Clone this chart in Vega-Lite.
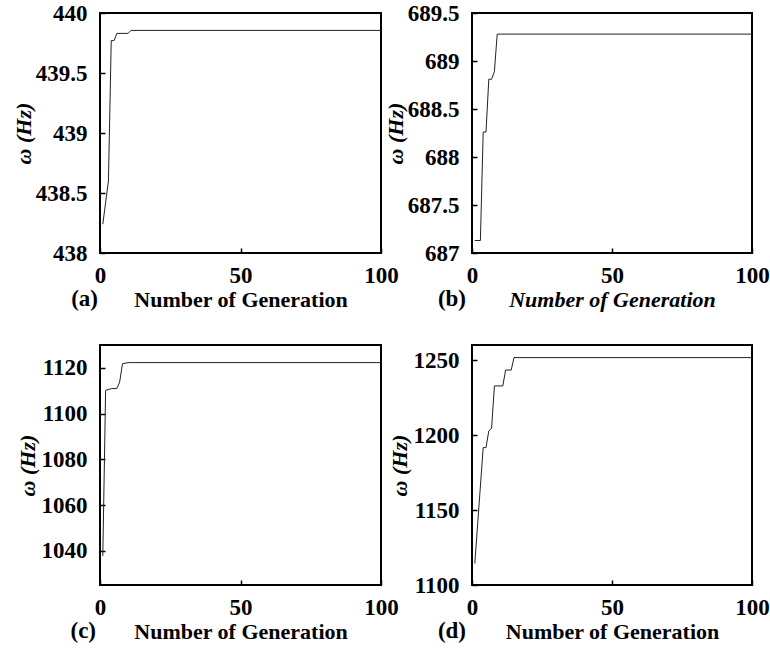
{
  "$schema": "https://vega.github.io/schema/vega-lite/v6.json",
  "background": "white",
  "padding": {"left": 11, "top": 1, "right": 5, "bottom": 5},
  "config": {
    "view": {"stroke": "black", "strokeWidth": 2},
    "axis": {
      "domain": false,
      "grid": false,
      "tickColor": "black",
      "tickWidth": 1.5,
      "tickSize": -5,
      "labelFont": "Liberation Serif",
      "labelFontWeight": "bold",
      "labelFontSize": 23,
      "labelColor": "black",
      "labelFlush": false,
      "labelOverlap": false,
      "titleFont": "Liberation Serif",
      "titleFontWeight": "bold",
      "titleFontSize": 22,
      "titleColor": "black"
    },
    "axisX": {"labelPadding": 16, "titlePadding": 2},
    "axisY": {"labelPadding": 18},
    "title": {"font": "Liberation Serif", "fontWeight": "bold", "fontSize": 23, "color": "black"}
  },
  "datasets": {
    "a": [
      {"gen": 1, "w": 438.24}, {"gen": 3, "w": 438.6}, {"gen": 4, "w": 439.77}, {"gen": 5, "w": 439.77},
      {"gen": 6, "w": 439.83}, {"gen": 10, "w": 439.83}, {"gen": 11, "w": 439.855}, {"gen": 100, "w": 439.855}
    ],
    "b": [
      {"gen": 1, "w": 687.13}, {"gen": 3, "w": 687.13}, {"gen": 4, "w": 688.26}, {"gen": 5, "w": 688.26},
      {"gen": 6, "w": 688.81}, {"gen": 7, "w": 688.81}, {"gen": 8, "w": 688.89}, {"gen": 9, "w": 689.28},
      {"gen": 100, "w": 689.28}
    ],
    "c": [
      {"gen": 1, "w": 1037.7}, {"gen": 2, "w": 1110.2}, {"gen": 4, "w": 1110.9}, {"gen": 6, "w": 1111},
      {"gen": 7, "w": 1113.8}, {"gen": 8, "w": 1121.8}, {"gen": 10, "w": 1122.3}, {"gen": 100, "w": 1122.3}
    ],
    "d": [
      {"gen": 1, "w": 1114.3}, {"gen": 4, "w": 1191.6}, {"gen": 5, "w": 1191.6}, {"gen": 6, "w": 1202.7},
      {"gen": 7, "w": 1204.5}, {"gen": 8, "w": 1232.7}, {"gen": 11, "w": 1232.7}, {"gen": 12, "w": 1243.3},
      {"gen": 14, "w": 1243.3}, {"gen": 15, "w": 1251.6}, {"gen": 100, "w": 1251.6}
    ]
  },
  "columns": 2,
  "bounds": "flush",
  "spacing": {"row": 92, "column": 91},
  "concat": [
    {
      "width": 281, "height": 240,
      "data": {"name": "a"},
      "title": {"text": "(a)", "orient": "bottom", "anchor": "start", "frame": "group", "align": "right", "dx": -2, "offset": -22},
      "mark": {"type": "line", "color": "#222", "strokeWidth": 1},
      "encoding": {
        "x": {"field": "gen", "type": "quantitative", "scale": {"domain": [0, 100], "nice": false},
              "axis": {"values": [0, 50, 100], "title": "Number of Generation"}},
        "y": {"field": "w", "type": "quantitative", "scale": {"domain": [438, 440], "nice": false, "zero": false},
              "axis": {"values": [438, 438.5, 439, 439.5, 440], "format": "~f", "title": "ω (Hz)", "titleFontStyle": "italic", "titlePadding": 0}}
      }
    },
    {
      "width": 280, "height": 240,
      "data": {"name": "b"},
      "title": {"text": "(b)", "orient": "bottom", "anchor": "start", "frame": "group", "align": "right", "dx": -6, "offset": -22},
      "mark": {"type": "line", "color": "#222", "strokeWidth": 1},
      "encoding": {
        "x": {"field": "gen", "type": "quantitative", "scale": {"domain": [0, 100], "nice": false},
              "axis": {"values": [0, 50, 100], "title": "Number of Generation", "titleFontStyle": "italic"}},
        "y": {"field": "w", "type": "quantitative", "scale": {"domain": [687, 689.5], "nice": false, "zero": false},
              "axis": {"values": [687, 687.5, 688, 688.5, 689, 689.5], "format": "~f", "title": "ω (Hz)", "titleFontStyle": "italic", "titlePadding": 0}}
      }
    },
    {
      "width": 281, "height": 240,
      "data": {"name": "c"},
      "title": {"text": "(c)", "orient": "bottom", "anchor": "start", "frame": "group", "align": "right", "dx": -4, "offset": -22},
      "mark": {"type": "line", "color": "#222", "strokeWidth": 1},
      "encoding": {
        "x": {"field": "gen", "type": "quantitative", "scale": {"domain": [0, 100], "nice": false},
              "axis": {"values": [0, 50, 100], "title": "Number of Generation"}},
        "y": {"field": "w", "type": "quantitative", "scale": {"domain": [1025, 1130], "nice": false, "zero": false},
              "axis": {"values": [1040, 1060, 1080, 1100, 1120], "format": "d", "title": "ω (Hz)", "titleFontStyle": "italic", "titlePadding": 2}}
      }
    },
    {
      "width": 280, "height": 240,
      "data": {"name": "d"},
      "title": {"text": "(d)", "orient": "bottom", "anchor": "start", "frame": "group", "align": "right", "dx": -6, "offset": -22},
      "mark": {"type": "line", "color": "#222", "strokeWidth": 1},
      "encoding": {
        "x": {"field": "gen", "type": "quantitative", "scale": {"domain": [0, 100], "nice": false},
              "axis": {"values": [0, 50, 100], "title": "Number of Generation"}},
        "y": {"field": "w", "type": "quantitative", "scale": {"domain": [1100, 1260], "nice": false, "zero": false},
              "axis": {"values": [1100, 1150, 1200, 1250], "format": "d", "title": "ω (Hz)", "titleFontStyle": "italic", "titlePadding": 2}}
      }
    }
  ]
}
